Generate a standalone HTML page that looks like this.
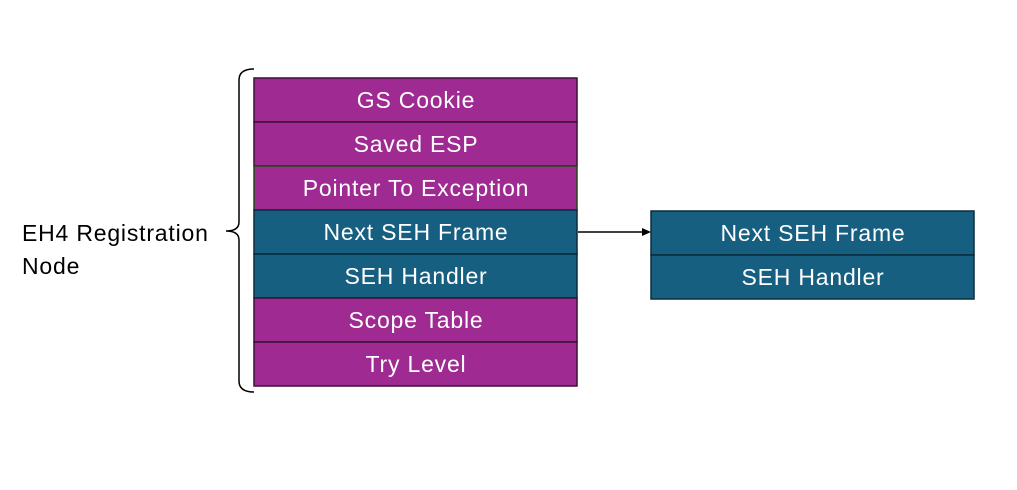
<!DOCTYPE html>
<html><head><meta charset="utf-8"><style>
html,body{margin:0;padding:0;background:#fff;width:1017px;height:490px;overflow:hidden}
text{font-family:"Liberation Sans",sans-serif;font-size:23px;fill:#fff;text-anchor:middle;dominant-baseline:central;letter-spacing:0.8px}
</style></head><body>
<svg width="1017" height="490" xmlns="http://www.w3.org/2000/svg">
<g stroke-width="1.5">
<rect x="254" y="78" width="323" height="44" fill="#9E2A92" stroke="#3d0f38"/>
<rect x="254" y="122" width="323" height="44" fill="#9E2A92" stroke="#3d0f38"/>
<rect x="254" y="166" width="323" height="44" fill="#9E2A92" stroke="#1e4a18"/>
<rect x="254" y="210" width="323" height="44" fill="#165F80" stroke="#0b2b3b"/>
<rect x="254" y="254" width="323" height="44" fill="#165F80" stroke="#0b2b3b"/>
<rect x="254" y="298" width="323" height="44" fill="#9E2A92" stroke="#3d0f38"/>
<rect x="254" y="342" width="323" height="44" fill="#9E2A92" stroke="#3d0f38"/>
<rect x="651" y="211" width="323" height="44" fill="#165F80" stroke="#0b2b3b"/>
<rect x="651" y="255" width="323" height="44" fill="#165F80" stroke="#0b2b3b"/>
</g>
<text x="416" y="100">GS Cookie</text>
<text x="416" y="144">Saved ESP</text>
<text x="416" y="188">Pointer To Exception</text>
<text x="416" y="232">Next SEH Frame</text>
<text x="416" y="276">SEH Handler</text>
<text x="416" y="320">Scope Table</text>
<text x="416" y="364">Try Level</text>
<text x="813" y="233">Next SEH Frame</text>
<text x="813" y="277">SEH Handler</text>
<line x1="578" y1="232" x2="642" y2="232" stroke="#000" stroke-width="1.5"/>
<polygon points="642,228 651,232 642,236" fill="#000"/>
<path d="M254,69 Q239,69 239,80 L239,222 Q239,231 226,231 Q239,231 239,240 L239,381 Q239,392 254,392" fill="none" stroke="#000" stroke-width="1.5"/>
<text x="22" y="233" style="text-anchor:start;fill:#000">EH4 Registration</text>
<text x="22" y="266" style="text-anchor:start;fill:#000">Node</text>
</svg>
</body></html>
